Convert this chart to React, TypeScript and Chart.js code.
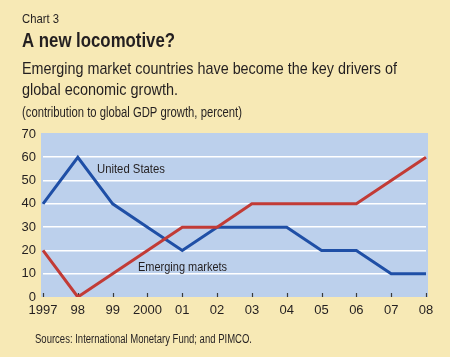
import React, { useEffect, useRef } from "react";
import { Chart, registerables } from "chart.js";
Chart.register(...registerables);

const years = ["1997", "98", "99", "2000", "01", "02", "03", "04", "05", "06", "07", "08"];
const unitedStates = [40, 60, 40, 30, 20, 30, 30, 30, 20, 20, 10, 10];
const emergingMarkets = [20, 0, 10, 20, 30, 30, 40, 40, 40, 40, 50, 60];
const seriesNames = ["United States", "Emerging markets"];
const yMin = 0;
const yMax = 70;
const yStep = 10;

const BG = "#F7E9B5";
const PLOT = "#BCD0EC";
const BLUE = "#1F4FA6";
const RED = "#C23B36";
const INK = "#231F20";
const FONT = "'Liberation Sans', Arial, sans-serif";

// label anchors in data coordinates (category index, value)
const seriesLabelAnchors = [
  { name: seriesNames[0], x: 1.55, y: 53.2 },
  { name: seriesNames[1], x: 2.73, y: 11.3 },
];

const headerTexts = [
  { text: "Chart 3", x: 22, y: 23, size: 13.5, bold: false, maxW: 37 },
  { text: "A new locomotive?", x: 22, y: 47, size: 20.5, bold: true, maxW: 153 },
  { text: "Emerging market countries have become the key drivers of", x: 22, y: 74, size: 17, bold: false, maxW: 375 },
  { text: "global economic growth.", x: 22, y: 95, size: 17, bold: false, maxW: 156 },
  { text: "(contribution to global GDP growth, percent)", x: 22, y: 117, size: 14, bold: false, maxW: 220 },
  { text: "Sources: International Monetary Fund; and PIMCO.", x: 35, y: 343, size: 12.5, bold: false, maxW: 217 },
];

const decorPlugin = {
  id: "decor",
  beforeDraw(chart: any) {
    const { ctx, chartArea } = chart;
    ctx.save();
    ctx.fillStyle = BG;
    ctx.fillRect(0, 0, chart.width, chart.height);
    ctx.fillStyle = PLOT;
    ctx.fillRect(chartArea.left - 2, chartArea.top - 1, chartArea.right - chartArea.left + 4, chartArea.bottom - chartArea.top + 1);
    ctx.restore();
  },
  beforeDatasetsDraw(chart: any) {
    const { ctx, chartArea } = chart;
    const xs = chart.scales.x;
    ctx.save();
    ctx.strokeStyle = "#3a3a3a";
    ctx.lineWidth = 1.2;
    for (let i = 0; i < years.length; i++) {
      const px = Math.round(xs.getPixelForValue(i)) + 0.5;
      ctx.beginPath();
      ctx.moveTo(px, chartArea.bottom - 4);
      ctx.lineTo(px, chartArea.bottom);
      ctx.stroke();
    }
    ctx.restore();
  },
  afterDraw(chart: any) {
    const { ctx } = chart;
    ctx.save();
    ctx.fillStyle = INK;
    ctx.textAlign = "left";
    ctx.textBaseline = "alphabetic";
    for (const t of headerTexts) {
      ctx.font = `${t.bold ? "bold " : ""}${t.size}px ${FONT}`;
      ctx.fillText(t.text, t.x, t.y, t.maxW);
    }
    const xs = chart.scales.x;
    const ys = chart.scales.y;
    ctx.font = `13px ${FONT}`;
    for (const a of seriesLabelAnchors) {
      ctx.fillText(a.name, xs.getPixelForValue(a.x), ys.getPixelForValue(a.y), a.name.length > 14 ? 89 : 68);
    }
    ctx.restore();
  },
};

export default function App() {
  const ref = useRef<HTMLCanvasElement | null>(null);
  useEffect(() => {
    if (!ref.current) return;
    const chart = new Chart(ref.current, {
      type: "line",
      data: {
        labels: years,
        datasets: [
          {
            label: seriesNames[1],
            data: emergingMarkets,
            borderColor: RED,
            borderWidth: 3,
            pointRadius: 0,
            tension: 0,
            borderJoinStyle: "miter",
            fill: false,
          },
          {
            label: seriesNames[0],
            data: unitedStates,
            borderColor: BLUE,
            borderWidth: 3,
            pointRadius: 0,
            tension: 0,
            borderJoinStyle: "miter",
            fill: false,
          },
        ],
      },
      options: {
        responsive: false,
        animation: false,
        layout: { padding: { top: 134, right: 24, left: 0, bottom: 0 } },
        plugins: { legend: { display: false }, tooltip: { enabled: false }, title: { display: false } },
        scales: {
          x: {
            type: "category",
            offset: false,
            grid: { display: false, drawTicks: false },
            border: { display: false },
            ticks: { autoSkip: false, maxRotation: 0, color: INK, font: { family: FONT, size: 13 }, padding: 6 },
            afterFit: (s: any) => { s.height = 60; },
          },
          y: {
            min: yMin,
            max: yMax,
            grid: {
              drawTicks: false,
              color: (c: any) => (c.tick && c.tick.value > yMin && c.tick.value < yMax ? "#FFFFFF" : "rgba(0,0,0,0)"),
              lineWidth: 1.6,
            },
            border: { display: false },
            ticks: { stepSize: yStep, color: INK, font: { family: FONT, size: 13 }, padding: 7 },
            afterFit: (s: any) => { s.width = 43; },
          },
        },
      },
      plugins: [decorPlugin],
    });
    return () => chart.destroy();
  }, []);
  return (
    <div style={{ position: "absolute", left: 0, top: 0, width: 450, height: 357 }}>
      <canvas ref={ref} width={450} height={357} style={{ display: "block", width: 450, height: 357 }} />
    </div>
  );
}
